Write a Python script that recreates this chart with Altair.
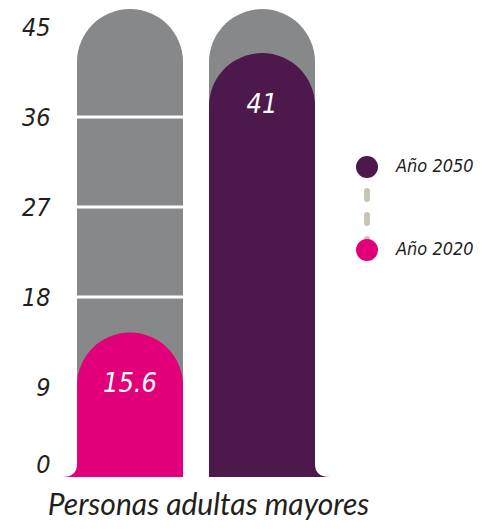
import altair as alt
import pandas as pd

# ---- data ----
series = ["Año 2020", "Año 2050"]
valores = [15.6, 41]
maximo = [45, 45]
tick_values = [0, 9, 18, 27, 36, 45]
grid_values = [9, 18, 27, 36]
legend_order = ["Año 2050", "Año 2020"]
legend_colors = ["#4d184b", "#e2007a"]
x_title = "Personas adultas mayores"

NARROW = "'Liberation Sans Narrow', 'DejaVu Sans Condensed', 'Arial Narrow', sans-serif"
TITLE_FONT = "Lato, 'Open Sans', sans-serif"
GRAY = "#87888a"
INK = "#231f20"
PINK = "#e2007a"
PURPLE = "#4d184b"

df = pd.DataFrame({"serie": series, "valor": valores, "maximo": maximo})
df_grid = pd.DataFrame({"v": grid_values})
df_one = pd.DataFrame({"k": [0]})

W, H = 264, 469
R = 53  # cap radius

xscale = alt.Scale(domain=series, paddingInner=26 / 132, paddingOuter=13 / 132)
X = alt.X(
    "serie:N",
    scale=xscale,
    axis=alt.Axis(
        title=x_title, labels=False, ticks=False, domain=False, grid=False,
        titleFont=TITLE_FONT, titleFontSize=30, titleFontStyle="italic",
        titleFontWeight="normal", titleColor=INK, titleX=144, titleY=37,
        titleBaseline="alphabetic", titleAlign="center",
    ),
)

SB = alt.Scale(domain=[2.45, 45.1], nice=False, zero=False, clamp=True)
SA = alt.Scale(domain=[0, 46.9], nice=False, zero=False)

base = alt.Chart(df)

gray = base.mark_bar(
    color=GRAY, cornerRadiusTopLeft=R, cornerRadiusTopRight=R
).encode(
    x=X,
    y=alt.Y("maximo:Q", scale=SB, axis=None),
    y2=alt.datum(0),
)

grid = alt.Chart(df_grid).mark_rule(color="white", strokeWidth=3).encode(
    y=alt.Y(
        "v:Q",
        scale=SA,
        axis=alt.Axis(
            orient="left", values=tick_values, title=None, domain=False,
            ticks=False, grid=False, labelFont=NARROW, labelFontSize=25,
            labelFontStyle="italic", labelColor=INK, labelPadding=14,
            labelFlush=True,
        ),
    )
)

pathL = "M -1.283 0 Q -1 0 -1 -0.24 L -1 0 Z"
pathR = "M 1.283 0 Q 1 0 1 -0.24 L 1 0 Z"

flareL = base.transform_filter(alt.datum.serie == series[0]).mark_point(
    shape=pathL, size=(2 * R) ** 2, filled=True, opacity=1, color=PINK, strokeWidth=0
).encode(x=X, y=alt.value(H))

flareR = base.transform_filter(alt.datum.serie == series[1]).mark_point(
    shape=pathR, size=(2 * R) ** 2, filled=True, opacity=1, color=PURPLE, strokeWidth=0
).encode(x=X, y=alt.value(H))

colored = base.mark_bar(
    cornerRadiusTopLeft=R, cornerRadiusTopRight=R, opacity=1
).encode(
    x=X,
    y=alt.Y("valor:Q", scale=SB, axis=None),
    y2=alt.datum(0),
    color=alt.Color(
        "serie:N",
        scale=alt.Scale(domain=legend_order, range=legend_colors),
        legend=alt.Legend(
            orient="none", legendX=292, legendY=148, direction="vertical",
            title=None, symbolType="circle", symbolSize=484,
            symbolStrokeWidth=0, symbolOpacity=1, labelFont=NARROW,
            labelFontSize=18, labelFontStyle="italic", labelColor=INK,
            labelOffset=18, rowPadding=61, padding=0, labelLimit=200,
        ),
    ),
)

labels = base.mark_text(
    dy=52, baseline="middle", align="center", color="white",
    font=NARROW, fontSize=27, fontStyle="italic",
).encode(
    x=X,
    y=alt.Y("valor:Q", scale=SB, axis=None),
    text=alt.Text("valor:Q", format=".1~f"),
)

connector = alt.Chart(df_one).mark_rule(
    color="#c8c5b5", strokeWidth=6, strokeDash=[8, 16], strokeCap="round"
).encode(x=alt.value(303), y=alt.value(183), y2=alt.value(237))

chart = (
    alt.layer(gray, grid, flareL, flareR, colored, labels, connector)
    .resolve_scale(y="independent")
    .properties(
        width=W, height=H, autosize="none",
        padding={"left": 56, "top": 0, "right": 146, "bottom": 44},
    )
    .configure_view(stroke=None)
)

chart.save("out.html", embed_options={"renderer": "svg", "actions": False})
